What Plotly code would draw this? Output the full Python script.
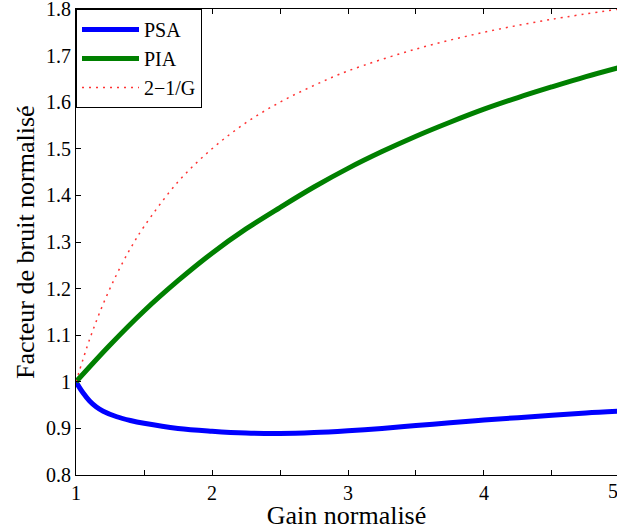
import plotly.graph_objects as go

# Data
G_psa = [1.0, 1.05, 1.1, 1.15, 1.2, 1.3, 1.4, 1.5, 1.75, 2.0, 2.25, 2.5, 2.75, 3.0,
         3.25, 3.5, 3.75, 4.0, 4.25, 4.5, 4.75, 5.0]
psa = [1.0, 0.977, 0.959, 0.946, 0.937, 0.925, 0.917, 0.911, 0.900, 0.894, 0.890, 0.889,
       0.891, 0.895, 0.900, 0.906, 0.912, 0.918, 0.923, 0.928, 0.933, 0.937]

G_pia = [1.0, 1.25, 1.5, 1.75, 2.0, 2.25, 2.5, 2.75, 3.0, 3.25, 3.5, 3.75, 4.0,
         4.25, 4.5, 4.75, 5.0]
pia = [1.0, 1.079, 1.152, 1.217, 1.276, 1.328, 1.374, 1.418, 1.458, 1.494, 1.527,
       1.557, 1.585, 1.610, 1.633, 1.655, 1.675]

G_ref = [1.0, 1.1, 1.2, 1.3, 1.4, 1.5, 1.75, 2.0, 2.25, 2.5, 2.75, 3.0, 3.5, 4.0, 4.5, 5.0]
ref = [1.0, 1.091, 1.167, 1.231, 1.286, 1.333, 1.429, 1.5, 1.556, 1.6, 1.636, 1.667,
       1.714, 1.75, 1.778, 1.8]

x_tickvals = [1, 1.5, 2, 2.5, 3, 3.5, 4, 4.5, 5]
x_ticktext = ["1", "", "2", "", "3", "", "4", "", "5"]
y_tickvals = [0.8, 0.9, 1.0, 1.1, 1.2, 1.3, 1.4, 1.5, 1.6, 1.7, 1.8]
y_ticktext = ["0.8", "0.9", "1", "1.1", "1.2", "1.3", "1.4", "1.5", "1.6", "1.7", "1.8"]

FONT = "Liberation Serif"
X_MAX = 4.978

fig = go.Figure()
fig.add_trace(go.Scatter(x=G_psa, y=psa, mode="lines", name="PSA",
                         line=dict(color="#0000ff", width=5, shape="spline")))
fig.add_trace(go.Scatter(x=G_pia, y=pia, mode="lines", name="PIA",
                         line=dict(color="#008000", width=5, shape="spline")))
fig.add_trace(go.Scatter(x=G_ref, y=ref, mode="lines", name="2\u22121/G",
                         line=dict(color="#ff3333", width=1.5, dash="2px,5px", shape="spline")))

fig.update_layout(
    width=617, height=530,
    margin=dict(l=76, r=0, t=9, b=55),
    paper_bgcolor="white", plot_bgcolor="white",
    font=dict(family=FONT, size=20, color="black"),
    showlegend=True,
    legend=dict(x=0, y=1, xanchor="left", yanchor="top",
                bordercolor="black", borderwidth=1, bgcolor="white",
                font=dict(family=FONT, size=20), itemwidth=57),
    xaxis=dict(range=[1, X_MAX], tickvals=x_tickvals, ticktext=x_ticktext,
               ticks="inside", ticklen=5, tickcolor="black", automargin=False,
               showline=True, linecolor="black", linewidth=1, mirror="ticks",
               showgrid=False, zeroline=False, ticklabeloverflow="allow",
               title=dict(text="Gain normalisé", font=dict(family=FONT, size=26)),
               tickfont=dict(family=FONT, size=20)),
    yaxis=dict(range=[0.8, 1.8], tickvals=y_tickvals, ticktext=y_ticktext,
               ticks="inside", ticklen=5, tickcolor="black", automargin=False,
               showline=True, linecolor="black", linewidth=1, mirror=False,
               showgrid=False, zeroline=False, ticklabeloverflow="allow",
               tickfont=dict(family=FONT, size=20)),
)

# y-axis title placed as rotated text
fig.add_annotation(x=0, xref="paper", xanchor="center", xshift=-51,
                   y=0.5, yref="paper", yanchor="middle", textangle=-90,
                   text="Facteur de bruit normalisé", showarrow=False,
                   font=dict(family=FONT, size=26))

# partially visible "5" tick label at the clipped right edge
fig.add_annotation(x=(5 - 1) / (X_MAX - 1), xref="paper", y=0, yref="paper",
                   yanchor="top", yshift=-3, text="5", showarrow=False,
                   font=dict(family=FONT, size=20))

fig.write_html("out.html", config={"displayModeBar": False},
               post_script="document.body.style.margin='0';document.body.style.overflow='hidden';")
